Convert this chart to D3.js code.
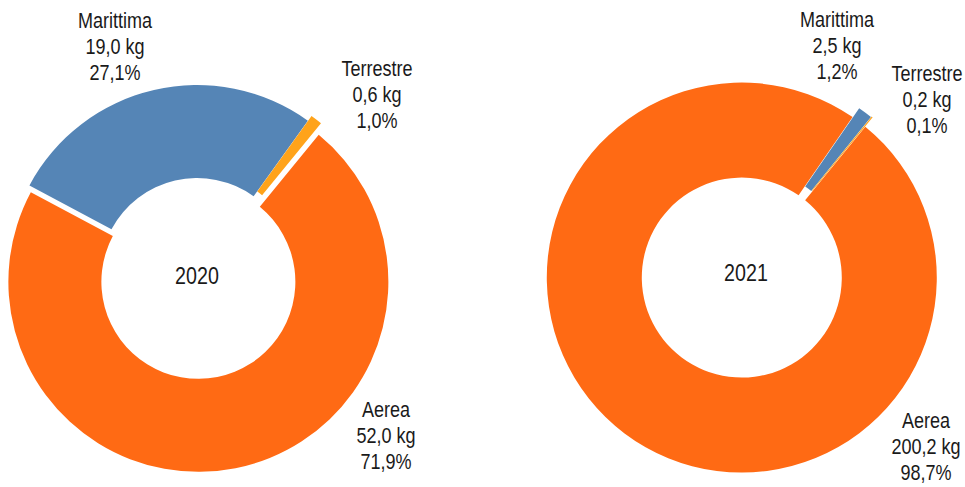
<!DOCTYPE html>
<html>
<head>
<meta charset="utf-8">
<script src="https://cdn.jsdelivr.net/npm/d3@7"></script>
<style>
  body { margin: 0; background: #fff; }
  svg text { font-family: 'Liberation Sans', Arial, sans-serif; fill: #1a1a1a; }
</style>
</head>
<body>
<div class="chart"></div>
<script>
// Modalità di trasporto - kg e quota per anno

const CATEGORIES = ['Aerea', 'Marittima', 'Terrestre']
const YEARS = ['2020', '2021']
const KG_2020 = [52.0, 19.0, 0.6]
const PCT_2020 = [71.9, 27.1, 1.0]
const KG_2021 = [200.2, 2.5, 0.2]
const PCT_2021 = [98.7, 1.2, 0.1]
const COLORS = ['#FF6A14', '#5585B6', '#FFA31A']

var svgWidth = 965
var svgHeight = 487

var svg = d3.select('.chart')
    .append('svg')
    .attr('width', svgWidth)
    .attr('height', svgHeight)

// no narrow font installed: squeeze Liberation Sans horizontally
var narrow = 0.82

// layout of each donut (centre, radii, explosion, label anchors)
var charts = [
    {
        year: YEARS[0], kg: KG_2020, pct: PCT_2020,
        cx: 197, cy: 275, inner: 97, outer: 190,
        explode: [7, 0, 6],
        labels: [[189, 142], [-82, -247], [180, -199]]
    },
    {
        year: YEARS[1], kg: KG_2021, pct: PCT_2021,
        cx: 746, cy: 272, inner: 100, outer: 195,
        explode: [7, 4, 5],
        labels: [[180, 156], [91, -245], [181, -191]]
    }
]

var startAngle = 39.3 * Math.PI / 180
var fmt = v => v.toFixed(1).replace('.', ',')

charts.forEach(c => {
    var rows = CATEGORIES.map((name, i) => ({ name: name, kg: c.kg[i], pct: c.pct[i], i: i }))

    var pie = d3.pie()
        .sort(null)
        .value(d => d.pct)
        .startAngle(startAngle)
        .endAngle(startAngle + 2 * Math.PI)

    var arc = d3.arc()
        .innerRadius(c.inner)
        .outerRadius(c.outer)

    var g = svg.append('g')
        .attr('transform', `translate(${c.cx}, ${c.cy})`)

    g.selectAll('path')
        .data(pie(rows))
        .enter()
        .append('path')
        .attr('transform', d => {
            var mid = (d.startAngle + d.endAngle) / 2
            var e = c.explode[d.data.i]
            return `translate(${e * Math.sin(mid)}, ${-e * Math.cos(mid)})`
        })
        .attr('d', arc)
        .attr('fill', d => COLORS[d.data.i])

    // centre year label
    g.append('text')
        .attr('text-anchor', 'middle')
        .attr('transform', `translate(0, 9) scale(${narrow}, 1)`)
        .attr('font-size', '24px')
        .text(c.year)

    // slice labels
    rows.forEach((d, i) => {
        var t = g.append('text')
            .attr('text-anchor', 'middle')
            .attr('font-size', '22px')
            .attr('transform', `translate(${c.labels[i][0]}, ${c.labels[i][1]}) scale(${narrow}, 1)`)
        var lines = [d.name, fmt(d.kg) + ' kg', fmt(d.pct) + '%']
        lines.forEach((l, k) => {
            t.append('tspan')
                .attr('x', 0)
                .attr('y', k * 26)
                .text(l)
        })
    })
})
</script>
</body>
</html>
